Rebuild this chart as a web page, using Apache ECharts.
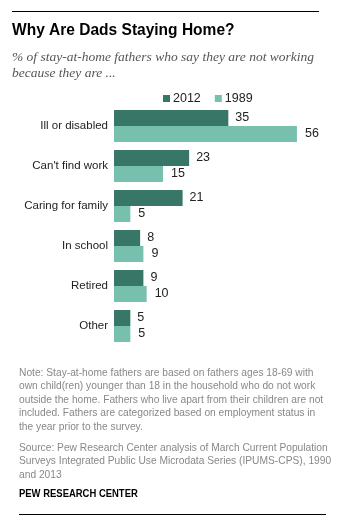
<!DOCTYPE html>
<html>
<head>
<meta charset="utf-8">
<script src="https://cdn.jsdelivr.net/npm/echarts@6/dist/echarts.min.js"></script>
<style>
  html, body { margin: 0; padding: 0; background: #fff; }
  #chart { width: 350px; height: 525px; }
</style>
</head>
<body>
<div id="chart"></div>
<script>
const categories = ['Ill or disabled', "Can't find work", 'Caring for family', 'In school', 'Retired', 'Other'];
const values2012 = [35, 23, 21, 8, 9, 5];
const values1989 = [56, 15, 5, 9, 10, 5];
const seriesNames = ['2012', '1989'];

const noteLines = [
  'Note: Stay-at-home fathers are based on fathers ages 18-69 with',
  'own child(ren) younger than 18 in the household who do not work',
  'outside the home. Fathers who live apart from their children are not',
  'included. Fathers are categorized based on employment status in',
  'the year prior to the survey.'
];
const sourceLines = [
  'Source: Pew Research Center analysis of March Current Population',
  'Surveys Integrated Public Use Microdata Series (IPUMS-CPS), 1990',
  'and 2013'
];

const dark = '#387667';
const light = '#78c0ae';
const sans = '"Liberation Sans", Arial, sans-serif';

const chart = echarts.init(document.getElementById('chart'));

// footnote text is squeezed a little sideways to mimic the condensed original font
const graphics = [
  { type: 'line', shape: { x1: 12, y1: 11.5, x2: 319, y2: 11.5 }, style: { stroke: '#000', lineWidth: 1 } },
  { type: 'text', x: 12, y: 23, style: { text: 'Why Are Dads Staying Home?', font: 'bold 16px ' + sans, fill: '#000' }, scaleX: 0.97 },
  { type: 'text', x: 12, y: 49, style: {
      text: '% of stay-at-home fathers who say they are not working\nbecause they are ...',
      font: 'italic 13.5px "Liberation Serif", serif', fill: '#555', lineHeight: 16 } },
  { type: 'text', x: 19, y: 366, scaleX: 0.93, style: {
      text: noteLines.join('\n'), font: '11px ' + sans, fill: '#888', lineHeight: 13.5 } },
  { type: 'text', x: 19, y: 441, scaleX: 0.93, style: {
      text: sourceLines.join('\n'), font: '11px ' + sans, fill: '#888', lineHeight: 13.5 } },
  { type: 'text', x: 19, y: 488, scaleX: 0.86, style: { text: 'PEW RESEARCH CENTER', font: 'bold 11px ' + sans, fill: '#000' } },
  { type: 'line', shape: { x1: 19, y1: 514.5, x2: 326, y2: 514.5 }, style: { stroke: '#000', lineWidth: 1 } }
];

chart.setOption({
  animation: false,
  legend: {
    data: seriesNames,
    left: 158,
    top: 87,
    itemWidth: 7,
    itemHeight: 7,
    itemGap: 14,
    icon: 'rect',
    textStyle: { fontFamily: sans, fontSize: 12.5, color: '#222', padding: [0, 0, 0, -2] }
  },
  grid: { left: 114, top: 106, height: 240, right: 40 },
  xAxis: { type: 'value', min: 0, max: 60, show: false },
  yAxis: {
    type: 'category',
    data: categories,
    inverse: true,
    axisLine: { show: false },
    axisTick: { show: false },
    axisLabel: { margin: 6, fontFamily: sans, fontSize: 11.5, color: '#222' }
  },
  series: [
    {
      name: seriesNames[0], type: 'bar', data: values2012, barWidth: 16, barGap: '0%',
      itemStyle: { color: dark },
      label: { show: true, position: 'right', distance: 7, fontFamily: sans, fontSize: 12.5, color: '#222' }
    },
    {
      name: seriesNames[1], type: 'bar', data: values1989, barWidth: 16, barGap: '0%',
      itemStyle: { color: light },
      label: { show: true, position: 'right', distance: 8, fontFamily: sans, fontSize: 12.5, color: '#222' }
    }
  ],
  graphic: graphics
});
</script>
</body>
</html>
